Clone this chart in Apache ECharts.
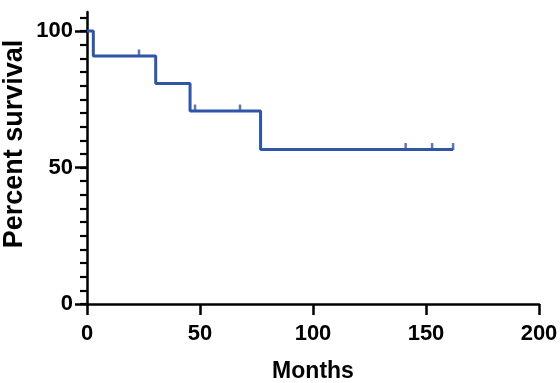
<!DOCTYPE html>
<html>
<head>
<meta charset="utf-8">
<script src="https://cdn.jsdelivr.net/npm/echarts@6/dist/echarts.min.js"></script>
<style>html,body{margin:0;padding:0;background:#fff}#c{width:560px;height:383px}</style>
</head>
<body>
<div id="c"></div>
<script>
// Kaplan-Meier steps: time (months) where each level starts, survival level (%)
var stepTimes = [0, 2.8, 30.4, 45.6, 76.8, 162];
var stepSurvival = [100, 90.9, 80.8, 70.7, 56.6, 56.6];
// censored observations
var censorTimes = [23, 47.8, 67.7, 141, 152.7, 162];
var censorSurvival = [90.9, 70.7, 70.7, 56.6, 56.6, 56.6];
// axis ticks
var xTicks = [0, 50, 100, 150, 200];
var yMajorTicks = [0, 50, 100];
var yMinorTicks = [0, 5, 10, 15, 20, 25, 30, 35, 40, 45, 50, 55, 60, 65, 70, 75, 80, 85, 90, 95, 100, 105];

var blue = '#2F55A6';
var font = '"Liberation Sans", Arial, sans-serif';

var stepData = stepTimes.map(function (t, i) { return [t, stepSurvival[i]]; });
var censorData = censorTimes.map(function (t, i) { return [t, censorSurvival[i]]; });

var chart = echarts.init(document.getElementById('c'), null, {renderer: 'canvas'});
chart.setOption({
  animation: false,
  backgroundColor: '#fff',
  grid: {left: 87, right: 21, top: 12, bottom: 79, containLabel: false, outerBoundsMode: 'none'},
  xAxis: {
    type: 'value', min: xTicks[0], max: xTicks[xTicks.length - 1], interval: 50,
    name: 'Months', nameLocation: 'middle', nameGap: 56,
    nameTextStyle: {fontFamily: font, fontWeight: 'bold', fontSize: 23, color: '#000'},
    axisLine: {show: true, onZero: false, lineStyle: {color: '#000', width: 2.5}},
    axisTick: {show: true, length: 11, lineStyle: {color: '#000', width: 2.5}},
    axisLabel: {margin: 19, fontFamily: font, fontWeight: 'bold', fontSize: 22, color: '#000'},
    splitLine: {show: false}
  },
  yAxis: [{
    type: 'value', min: 0, max: 107,
    name: 'Percent survival', nameLocation: 'middle', nameGap: 59,
    nameTextStyle: {fontFamily: font, fontWeight: 'bold', fontSize: 27, color: '#000', padding: [0, 0, 0, 28]},
    axisLine: {show: true, onZero: false, lineStyle: {color: '#000', width: 2.5}},
    axisTick: {show: true, length: 7, customValues: yMinorTicks, lineStyle: {color: '#000', width: 2.2}},
    axisLabel: {show: false},
    splitLine: {show: false}
  }, {
    type: 'value', min: 0, max: 107, position: 'left', offset: 0,
    axisLine: {show: false},
    axisTick: {show: true, length: 12, customValues: yMajorTicks, lineStyle: {color: '#000', width: 2.5}},
    axisLabel: {show: true, customValues: yMajorTicks, margin: 14, fontFamily: font, fontWeight: 'bold', fontSize: 22, color: '#000'},
    splitLine: {show: false}
  }],
  series: [{
    type: 'line', step: 'end', data: stepData, yAxisIndex: 0,
    showSymbol: false, symbol: 'none',
    lineStyle: {color: blue, width: 3}, z: 3
  }, {
    type: 'scatter', data: censorData, yAxisIndex: 0,
    symbol: 'rect', symbolSize: [2.5, 7], symbolOffset: [0, -3],
    itemStyle: {color: blue}, z: 4
  }]
});
</script>
</body>
</html>
